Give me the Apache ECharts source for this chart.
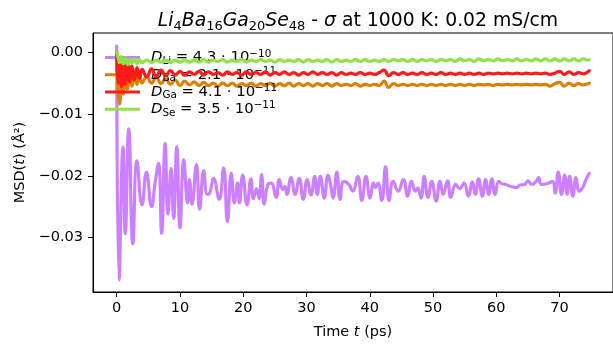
<!DOCTYPE html>
<html><head><meta charset="utf-8">
<script src="https://cdn.jsdelivr.net/npm/echarts@6/dist/echarts.min.js"></script>
<style>html,body{margin:0;padding:0;background:#fff}#c{width:613px;height:345px}</style>
</head><body><div id="c"></div>
<script>
// ---- data ----
const liTime = [0,0.37,1.0,1.35,1.9,2.55,3.2,4.0,4.7,5.5,6.1,6.6,7.1,7.65,8.1,8.6,9.0,9.5,10.0,10.6,11.2,11.5,11.9,12.6,13.1,13.75,14.3,14.7,15.3,16.2,16.9,17.5,18.1,18.6,19.1,19.4,19.9,20.6,21.2,21.6,22.1,22.5,22.9,23.3,23.9,24.4,25.2,25.7,26.25,26.6,26.9,27.55,28.2,28.85,29.5,30.1,30.7,31.3,31.7,32.2,32.8,33.4,33.8,34.2,34.8,35.3,35.9,36.7,37.3,38.1,38.75,39.4,40.05,40.6,40.9,41.3,41.9,42.5,43.05,43.7,44.5,45.3,46.0,46.6,47.2,47.6,48.1,48.6,49.2,49.8,50.5,51.1,51.6,52.3,52.8,53.6,54.2,54.9,55.6,56.2,56.7,57.2,57.8,58.3,58.8,59.3,59.8,60.4,60.9,61.5,62.2,63.2,63.75,64.5,65.0,65.6,66.3,66.7,67.1,68.2,68.9,69.3,69.8,70.3,70.8,71.2,71.6,72.1,72.6,73.1,73.6,74.2,74.7];
const liMsd = [0.001,-0.0369,-0.0153,-0.0294,-0.0124,-0.031,-0.0176,-0.0247,-0.0194,-0.025,-0.0209,-0.018,-0.0293,-0.0148,-0.0262,-0.0188,-0.0269,-0.0153,-0.0284,-0.0174,-0.0244,-0.0206,-0.0246,-0.0182,-0.0254,-0.0192,-0.023,-0.0228,-0.0204,-0.0238,-0.0187,-0.0274,-0.0196,-0.0244,-0.0212,-0.0244,-0.0199,-0.0247,-0.0205,-0.0237,-0.0221,-0.0237,-0.0198,-0.0246,-0.0214,-0.0212,-0.0235,-0.0206,-0.0222,-0.0217,-0.023,-0.0203,-0.023,-0.0204,-0.0238,-0.0206,-0.0231,-0.0201,-0.023,-0.0201,-0.0236,-0.0199,-0.0214,-0.0236,-0.0194,-0.0238,-0.0209,-0.0214,-0.0225,-0.0201,-0.024,-0.0201,-0.0236,-0.0212,-0.0219,-0.0212,-0.024,-0.0185,-0.024,-0.0209,-0.0225,-0.0206,-0.0233,-0.0209,-0.0225,-0.022,-0.0236,-0.0201,-0.0235,-0.0209,-0.0241,-0.0209,-0.023,-0.0208,-0.0235,-0.0214,-0.0221,-0.0212,-0.0233,-0.021,-0.023,-0.0205,-0.0233,-0.0206,-0.023,-0.0205,-0.023,-0.0209,-0.0213,-0.0214,-0.0217,-0.0219,-0.0215,-0.0214,-0.0208,-0.0214,-0.0209,-0.0203,-0.0214,-0.0212,-0.0209,-0.0228,-0.0194,-0.023,-0.0199,-0.023,-0.0201,-0.0233,-0.0203,-0.0225,-0.022,-0.0206,-0.0196];

const smallTime = [
0,0.2,0.45,0.75,1.05,1.35,1.7,2.05,2.4,2.8,
3.2,3.6,4.0,4.75,5.5,6.25,7.0,7.75,8.5,9.25,
10.0,10.75,11.5,12.25,13.0,13.75,14.5,15.25,16.0,16.75,
17.5,18.25,19.0,19.75,20.5,21.25,22.0,22.75,23.5,24.25,
25.0,25.75,26.5,27.25,28.0,28.75,29.5,30.25,31.0,31.75,
32.5,33.25,34.0,34.75,35.5,36.25,37.0,37.75,38.5,39.25,
40.0,40.75,41.5,42.25,43.0,43.75,44.5,45.25,46.0,46.75,
47.5,48.25,49.0,49.75,50.5,51.25,52.0,52.75,53.5,54.25,
55.0,55.75,56.5,57.25,58.0,58.75,59.5,60.25,61.0,61.75,
62.5,63.25,64.0,64.75,65.5,66.25,67.0,67.75,68.5,69.25,
70.0,70.75,71.5,72.25,73.0,73.75,74.5,74.7];

const baMsd = [
0,-0.0060,-0.0084,-0.0040,-0.0068,-0.0035,-0.0060,-0.0038,-0.0055,-0.0036,
-0.0052,-0.0037,-0.0050,-0.0039,-0.0050,-0.0041,-0.0051,-0.0043,-0.0052,-0.0045,
-0.0054,-0.0047,-0.0053,-0.0048,-0.0054,-0.0049,-0.0054,-0.0050,-0.0055,-0.0050,
-0.0054,-0.0050,-0.0055,-0.0051,-0.0054,-0.0050,-0.0055,-0.0051,-0.0054,-0.0050,
-0.0055,-0.0051,-0.0054,-0.0050,-0.0055,-0.0051,-0.0054,-0.0051,-0.0055,-0.0051,
-0.0054,-0.0051,-0.0055,-0.0051,-0.0054,-0.0052,-0.0054,-0.0051,-0.0055,-0.0052,
-0.0054,-0.0052,-0.0054,-0.0047,-0.0057,-0.0051,-0.0054,-0.0052,-0.0054,-0.0052,
-0.0054,-0.0052,-0.0054,-0.0052,-0.0054,-0.0052,-0.0054,-0.0052,-0.0054,-0.0052,
-0.0054,-0.0052,-0.0054,-0.0052,-0.0053,-0.0052,-0.0054,-0.0052,-0.0053,-0.0052,
-0.0053,-0.0052,-0.0053,-0.0052,-0.0053,-0.0052,-0.0053,-0.0052,-0.0055,-0.0051,
-0.0049,-0.0055,-0.0050,-0.0054,-0.0051,-0.0053,-0.0051,-0.0050];

const gaMsd = [
0,-0.0050,-0.0012,-0.0056,-0.0010,-0.0052,-0.0018,-0.0048,-0.0022,-0.0045,
-0.0025,-0.0042,-0.0028,-0.0040,-0.0027,-0.0039,-0.0029,-0.0038,-0.0030,-0.0037,
-0.0031,-0.0037,-0.0032,-0.0036,-0.0031,-0.0037,-0.0032,-0.0036,-0.0033,-0.0037,
-0.0032,-0.0036,-0.0033,-0.0037,-0.0032,-0.0036,-0.0033,-0.0036,-0.0032,-0.0037,
-0.0033,-0.0036,-0.0032,-0.0036,-0.0033,-0.0037,-0.0033,-0.0036,-0.0032,-0.0036,
-0.0033,-0.0036,-0.0033,-0.0037,-0.0033,-0.0036,-0.0034,-0.0036,-0.0033,-0.0036,
-0.0034,-0.0036,-0.0033,-0.0029,-0.0038,-0.0033,-0.0036,-0.0033,-0.0036,-0.0034,
-0.0036,-0.0033,-0.0036,-0.0034,-0.0036,-0.0033,-0.0036,-0.0034,-0.0036,-0.0034,
-0.0036,-0.0034,-0.0036,-0.0034,-0.0036,-0.0034,-0.0035,-0.0034,-0.0035,-0.0034,
-0.0035,-0.0034,-0.0035,-0.0034,-0.0035,-0.0034,-0.0035,-0.0034,-0.0036,-0.0034,
-0.0031,-0.0036,-0.0032,-0.0036,-0.0033,-0.0035,-0.0032,-0.0030];

const seMsd = [
0,-0.0008,-0.0017,-0.0007,-0.0019,-0.0010,-0.0020,-0.0012,-0.0018,-0.0011,
-0.0019,-0.0012,-0.0017,-0.0013,-0.0017,-0.0013,-0.0016,-0.0013,-0.0017,-0.0013,
-0.0016,-0.0013,-0.0016,-0.0013,-0.0016,-0.0012,-0.0016,-0.0013,-0.0015,-0.0012,
-0.0016,-0.0013,-0.0015,-0.0012,-0.0016,-0.0013,-0.0015,-0.0012,-0.0015,-0.0013,
-0.0016,-0.0012,-0.0015,-0.0013,-0.0015,-0.0012,-0.0016,-0.0012,-0.0015,-0.0013,
-0.0015,-0.0012,-0.0016,-0.0012,-0.0015,-0.0013,-0.0015,-0.0012,-0.0015,-0.0012,
-0.0015,-0.0013,-0.0015,-0.0012,-0.0015,-0.0012,-0.0014,-0.0012,-0.0015,-0.0012,
-0.0015,-0.0012,-0.0014,-0.0012,-0.0015,-0.0012,-0.0014,-0.0012,-0.0015,-0.0011,
-0.0014,-0.0012,-0.0015,-0.0011,-0.0014,-0.0012,-0.0014,-0.0011,-0.0014,-0.0012,
-0.0014,-0.0011,-0.0014,-0.0012,-0.0014,-0.0011,-0.0014,-0.0011,-0.0014,-0.0011,
-0.0014,-0.0011,-0.0014,-0.0011,-0.0014,-0.0011,-0.0013,-0.0012];

const species = ['Li','Ba','Ga','Se'];
const dMantissa = ['4.3','2.1','4.1','3.5'];
const dExponent = ['\u221210','\u221211','\u221211','\u221211'];
const xTicks = [0,10,20,30,40,50,60,70];
const yTicks = [0,-0.01,-0.02,-0.03];

// ---- chart ----
const colors = ['#cc80ff','#dd8000','#ff1a1a','#90e24a'];
const F = 'DejaVu Sans';
const FS = 14.5;
function pairs(t, v){ return t.map((x,i)=>[x, v[i]]); }
const seriesData = [pairs(liTime, liMsd), pairs(smallTime, baMsd), pairs(smallTime, gaMsd), pairs(smallTime, seMsd)];

const chart = echarts.init(document.getElementById('c'), null, {renderer:'canvas'});
chart.setOption({
  animation:false,
  backgroundColor:'#fff',
  title:{
    left:353, top:4, textAlign:'center',
    text:'{i|Li}{s|4}{i|Ba}{s|16}{i|Ga}{s|20}{i|Se}{s|48}{r| - }{i|\u03c3}{r| at 1000 K: 0.02 mS/cm}',
    textStyle:{
      fontWeight:'normal',
      rich:{
        r:{fontFamily:F,fontSize:18.8,fontWeight:'normal',color:'#000',lineHeight:24},
        i:{fontFamily:F,fontSize:18.8,fontWeight:'normal',fontStyle:'italic',color:'#000',lineHeight:24},
        s:{fontFamily:F,fontSize:13,fontWeight:'normal',color:'#000',verticalAlign:'bottom',lineHeight:16}
      }
    }
  },
  grid:{left:93, top:33, right:-6, bottom:50, show:true, borderColor:'#000', borderWidth:1, backgroundColor:'transparent'},
  legend:{
    orient:'vertical', left:105, top:49, padding:0, itemGap:0, itemWidth:35, itemHeight:3,
    icon:'rect', selectedMode:false,
    data:species.map((s,i)=>({name:s, itemStyle:{color:colors[i]}})),
    formatter:function(name){
      const k = species.indexOf(name);
      return '{d|D}{sub|'+name+'}{t| = '+dMantissa[k]+' \u00b7 10}{sup|'+dExponent[k]+'}';
    },
    textStyle:{
      padding:[0,0,0,6],
      rich:{
        d:{fontFamily:F,fontSize:14.8,fontStyle:'italic',color:'#000',lineHeight:17.2},
        t:{fontFamily:F,fontSize:14.8,color:'#000',lineHeight:17.2},
        sub:{fontFamily:F,fontSize:10.4,color:'#000',verticalAlign:'bottom',lineHeight:11},
        sup:{fontFamily:F,fontSize:10.4,color:'#000',verticalAlign:'top',lineHeight:10}
      }
    }
  },
  xAxis:{
    type:'value', min:-3.75, max:78.45,
    name:'{r|Time }{i|t}{r| (ps)}', nameLocation:'middle', nameGap:33,
    nameTextStyle:{rich:{
      r:{fontFamily:F,fontSize:FS,color:'#000'},
      i:{fontFamily:F,fontSize:FS,fontStyle:'italic',color:'#000'}
    }},
    axisLine:{show:true,onZero:false,lineStyle:{color:'#000',width:1}},
    axisTick:{show:true,length:5,customValues:xTicks,lineStyle:{color:'#000',width:1}},
    axisLabel:{customValues:xTicks,fontFamily:F,fontSize:FS,color:'#000',margin:9},
    splitLine:{show:false}
  },
  yAxis:{
    type:'value', min:-0.0388, max:0.0031,
    name:'{r|MSD(}{i|t}{r|) (\u00c5\u00b2)}', nameLocation:'middle', nameGap:64, nameRotate:90,
    nameTextStyle:{rich:{
      r:{fontFamily:F,fontSize:FS,color:'#000'},
      i:{fontFamily:F,fontSize:FS,fontStyle:'italic',color:'#000'}
    }},
    axisLine:{show:true,onZero:false,lineStyle:{color:'#000',width:1}},
    axisTick:{show:true,length:5,customValues:yTicks,lineStyle:{color:'#000',width:1}},
    axisLabel:{customValues:yTicks,fontFamily:F,fontSize:FS,color:'#000',margin:10,
      formatter:function(v){ return (v < 0 ? '\u2212' : '') + Math.abs(v).toFixed(2); }},
    splitLine:{show:false}
  },
  series:species.map((s,i)=>({
    name:s, type:'line', data:seriesData[i], showSymbol:false, symbol:'none',
    smooth:0.5, clip:true,
    lineStyle:{color:colors[i], width:3.2, join:'round', cap:'round'},
    itemStyle:{color:colors[i]}, z:2+i
  }))
});
</script></body></html>
